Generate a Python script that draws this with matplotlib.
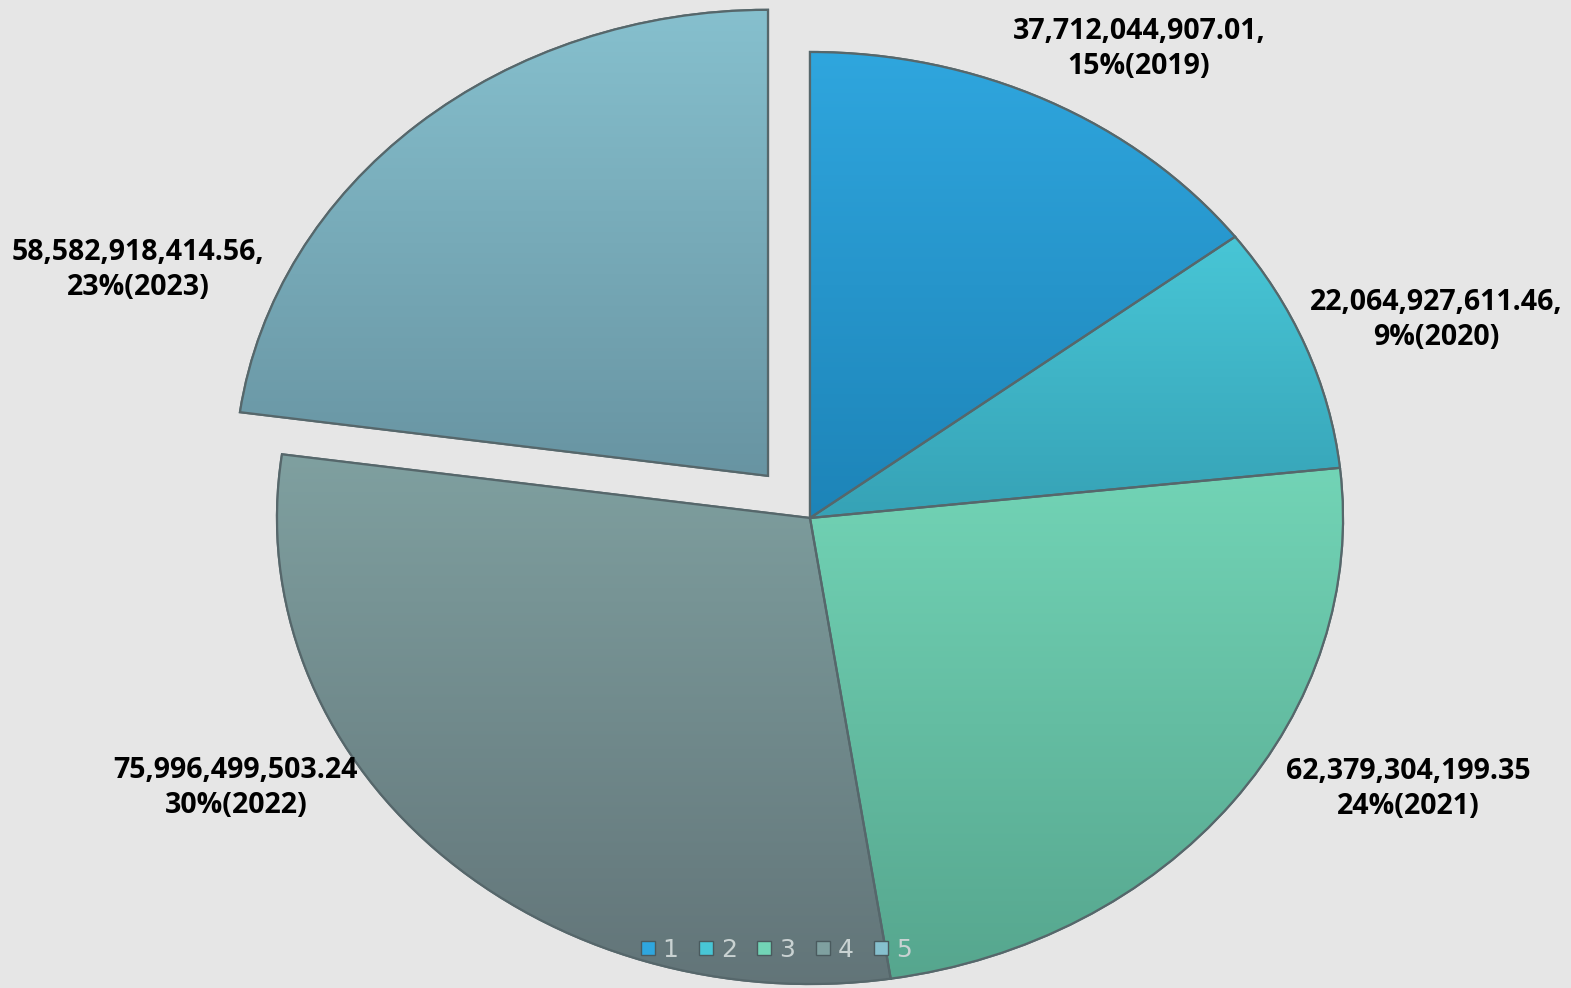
import matplotlib.pyplot as plt
import matplotlib.colors as mcolors
from matplotlib.lines import Line2D
import numpy as np

# values per year
years = ['2019', '2020', '2021', '2022', '2023']
values = [37712044907.01, 22064927611.46, 62379304199.35, 75996499503.24, 58582918414.56]
value_text = ['37,712,044,907.01,', '22,064,927,611.46,', '62,379,304,199.35',
              '75,996,499,503.24', '58,582,918,414.56,']
legend_names = ['1', '2', '3', '4', '5']
explode = [0, 0, 0, 0, 0.12]

top_colors = ['#2fa6de', '#48c6d6', '#72d4b6', '#7fa0a0', '#86c0ce']
bottom_colors = ['#1d84b8', '#36a2b6', '#56a68e', '#627478', '#6894a2']

W, H = 1571, 988
cx, cy, rx, ry = 810, 518, 533, 466

fig = plt.figure(figsize=(W / 100, H / 100), dpi=100)
fig.patch.set_facecolor('#e6e6e6')
ax = fig.add_axes([0, 0, 1, 1])
ax.set_facecolor('#e6e6e6')
ax.axis('off')

wedges, _ = ax.pie(values, explode=explode, startangle=90, counterclock=False,
                   colors=top_colors, radius=1.0,
                   wedgeprops=dict(edgecolor='#5a6a6e', linewidth=1.6))

# vertical shading inside each wedge
for w, ct, cb in zip(wedges, top_colors, bottom_colors):
    verts = w.get_path().vertices
    verts = w.get_patch_transform().transform(verts)
    x0, x1 = verts[:, 0].min(), verts[:, 0].max()
    y0, y1 = verts[:, 1].min(), verts[:, 1].max()
    cmap = mcolors.LinearSegmentedColormap.from_list('g', [cb, ct])
    grad = np.linspace(0, 1, 256).reshape(-1, 1)
    im = ax.imshow(grad, cmap=cmap, extent=[x0, x1, y0, y1], origin='lower',
                   aspect='auto', zorder=w.get_zorder() + 0.1)
    im.set_clip_path(w)
    edge = plt.matplotlib.patches.PathPatch(w.get_path(), transform=w.get_transform(),
                                            fill=False, edgecolor='#56676b', linewidth=1.6,
                                            zorder=w.get_zorder() + 0.2)
    ax.add_patch(edge)

ax.set_xlim(-cx / rx, (W - cx) / rx)
ax.set_ylim(-(H - cy) / ry, cy / ry)
ax.set_aspect('auto')

total = sum(values)
label_px = [(1139, 49), (1436, 320), (1408, 789), (236, 788), (138, 270)]
for (px, py), vt, v, yr in zip(label_px, value_text, values, years):
    pct = '%d%%(%s)' % (round(v / total * 100), yr)
    ax.text((px - cx) / rx, (cy - py) / ry, vt + '\n' + pct, ha='center', va='center',
            fontsize=20.5, fontweight='bold', family='Open Sans', color='#000000',
            linespacing=1.3, zorder=10)

handles = [Line2D([0], [0], marker='s', linestyle='none', markersize=10,
                  markerfacecolor=c, markeredgecolor='#4a5a5e') for c in top_colors]
leg = ax.legend(handles, legend_names, loc='center', bbox_to_anchor=(776 / W, 1 - 950 / H),
                ncol=5, frameon=False, fontsize=18, handlelength=0.6, handletextpad=0.3,
                columnspacing=0.8, labelcolor='#c9d2d2')
leg.set_zorder(20)

fig.savefig('out.png', dpi=100, facecolor=fig.get_facecolor())
